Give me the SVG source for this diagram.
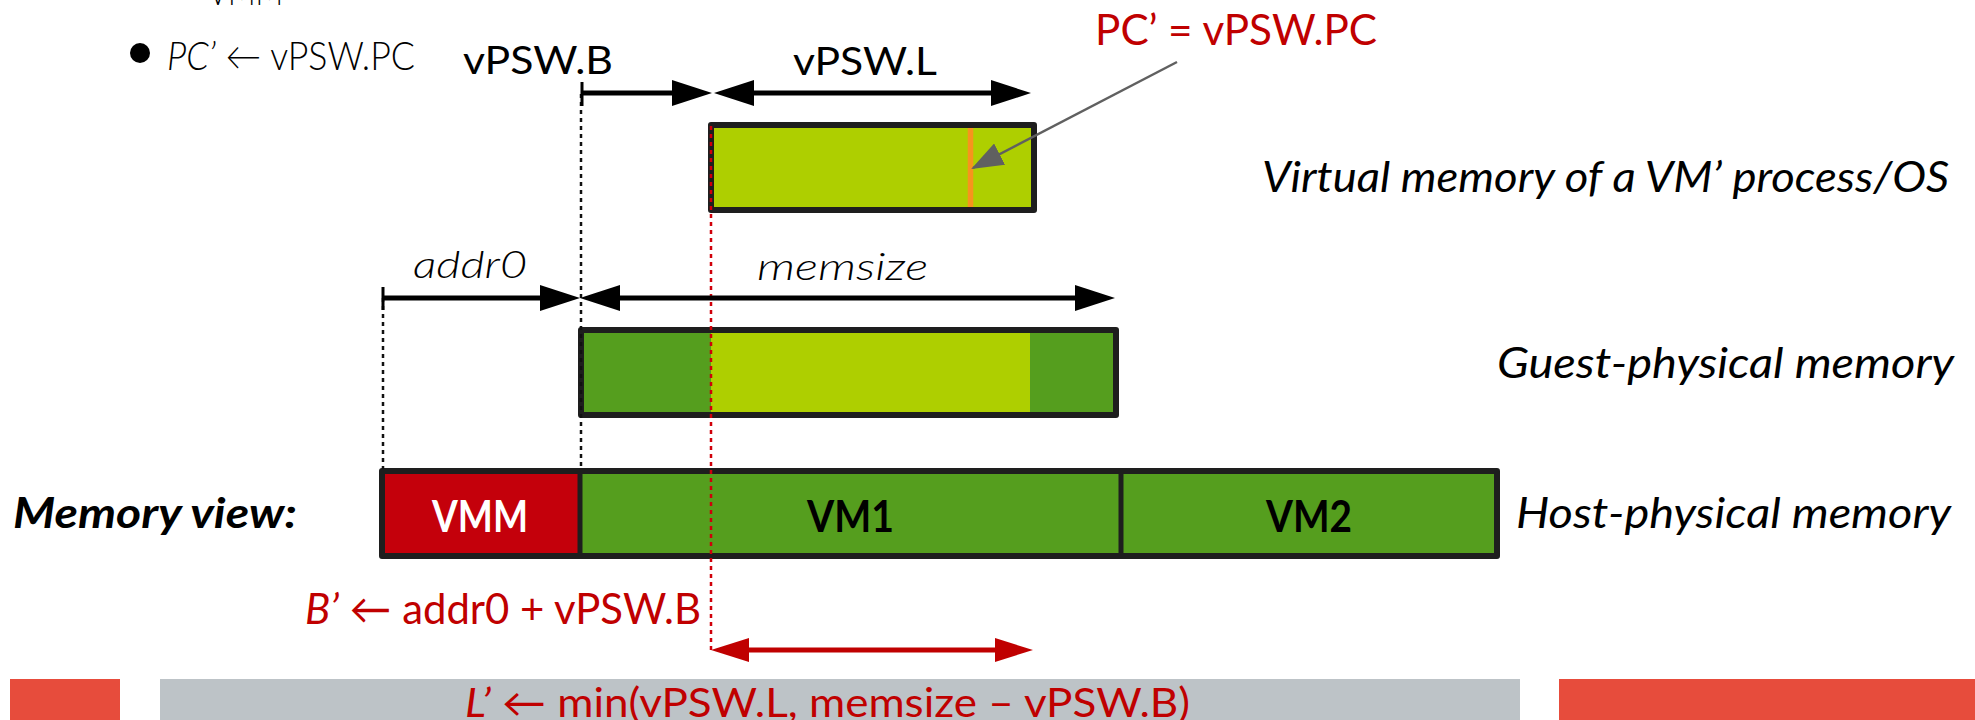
<svg xmlns="http://www.w3.org/2000/svg" width="1975" height="720" viewBox="0 0 1975 720">
  <style>
    text { font-family: "Lato", "Open Sans", "Noto Sans", "Liberation Sans", sans-serif; fill: #000; }
    .lt { font-weight: 300; }
    .it { font-style: italic; }
    .bd { font-weight: 700; }
    .red { fill: #C00000; }
    .wht { fill: #FFFFFF; }
    .box { fill: none; stroke: #1E1E1E; stroke-width: 6; stroke-linejoin: round; }
    .div { stroke: #1E1E1E; stroke-width: 5; }
    .dim { stroke: #000; stroke-width: 5; fill: none; }
    .dimr { stroke: #C00000; stroke-width: 5; fill: none; }
    .tick { stroke: #000; stroke-width: 3; }
    .dotk { stroke: #111; stroke-width: 2.5; stroke-dasharray: 4 4; fill: none; }
    .dotr { stroke: #D0000A; stroke-width: 2.5; stroke-dasharray: 4 4; fill: none; }
    .ptr { stroke: #606060; stroke-width: 2.5; fill: none; }
  </style>
  <defs>
    <marker id="headK" viewBox="0 0 40 26" refX="30" refY="13" markerWidth="40" markerHeight="26" markerUnits="userSpaceOnUse" orient="auto-start-reverse">
      <path d="M0,0 L40,13 L0,26 Z" fill="#000"/>
    </marker>
    <marker id="headR" viewBox="0 0 38 24" refX="28" refY="12" markerWidth="38" markerHeight="24" markerUnits="userSpaceOnUse" orient="auto-start-reverse">
      <path d="M0,0 L38,12 L0,24 Z" fill="#C00000"/>
    </marker>
    <marker id="headG" viewBox="0 0 32 24" refX="30" refY="12" markerWidth="32" markerHeight="24" markerUnits="userSpaceOnUse" orient="auto">
      <path d="M0,0 L32,12 L0,24 Z" fill="#606060"/>
    </marker>
  </defs>

  <!-- bottom footer bars -->
  <g id="footer">
    <rect x="10" y="679" width="110" height="41" fill="#E74C3C"/>
    <rect x="160" y="679" width="1360" height="41" fill="#BDC3C7"/>
    <rect x="1559" y="679" width="416" height="41" fill="#E74C3C"/>
  </g>

  <!-- slide text above the figure -->
  <g id="bullet">
    <text class="lt" x="208" y="5" font-size="38" textLength="75" lengthAdjust="spacingAndGlyphs" fill="#222">VMM</text>
    <circle cx="140" cy="53" r="10" fill="#000"/>
    <text class="lt" x="167" y="70" font-size="39" textLength="248" lengthAdjust="spacingAndGlyphs"><tspan class="it">PC’</tspan> ← vPSW.PC</text>
  </g>

  <!-- virtual memory of the guest process -->
  <g id="virtual">
    <rect x="711" y="125" width="323" height="85" fill="#AECF00"/>
    <line x1="970.5" y1="128" x2="970.5" y2="207" stroke="#F7941D" stroke-width="5.5"/>
    <rect class="box" x="711" y="125" width="323" height="85"/>
    <text class="it" x="1262" y="192" font-size="42" textLength="687" lengthAdjust="spacingAndGlyphs">Virtual memory of a VM’ process/OS</text>
  </g>

  <!-- guest-physical memory -->
  <g id="guest">
    <rect x="581" y="330" width="535" height="85" fill="#559E1E"/>
    <rect x="711" y="330" width="319" height="85" fill="#AECF00"/>
    <rect class="box" x="581" y="330" width="535" height="85"/>
    <text class="it" x="1497" y="378" font-size="42" textLength="457" lengthAdjust="spacingAndGlyphs">Guest-physical memory</text>
  </g>

  <!-- host-physical memory -->
  <g id="host">
    <rect id="vmm" x="382" y="471" width="198" height="85" fill="#C4000B"/>
    <rect id="vm1" x="580" y="471" width="541" height="85" fill="#559E1E"/>
    <rect id="vm2" x="1121" y="471" width="376" height="85" fill="#559E1E"/>
    <rect class="box" x="382" y="471" width="1115" height="85"/>
    <line class="div" x1="580" y1="471" x2="580" y2="556"/>
    <line class="div" x1="1121" y1="471" x2="1121" y2="556"/>
    <text class="bd wht" x="432" y="532" font-size="44" textLength="96" lengthAdjust="spacingAndGlyphs">VMM</text>
    <text class="bd" x="807" y="532" font-size="44" textLength="87" lengthAdjust="spacingAndGlyphs">VM1</text>
    <text class="bd" x="1266" y="532" font-size="44" textLength="86" lengthAdjust="spacingAndGlyphs">VM2</text>
    <text class="it" x="1516" y="528" font-size="42" textLength="435" lengthAdjust="spacingAndGlyphs">Host-physical memory</text>
    <text class="bd it" x="13" y="528" font-size="42" textLength="284" lengthAdjust="spacingAndGlyphs">Memory view:</text>
  </g>

  <!-- dimension lines, guides and pointer -->
  <g id="connectors">
    <line class="dotk" x1="383" y1="298" x2="383" y2="469"/>
    <line class="dotk" x1="581" y1="94" x2="581" y2="469"/>
    <line class="dotr" x1="711" y1="126" x2="711" y2="650"/>

    <line class="tick" x1="582" y1="82" x2="582" y2="106"/>
    <line class="dim" x1="582" y1="93" x2="702" y2="93" marker-end="url(#headK)"/>
    <line class="dim" x1="724" y1="93" x2="1021" y2="93" marker-start="url(#headK)" marker-end="url(#headK)"/>

    <line class="tick" x1="383" y1="287" x2="383" y2="310"/>
    <line class="dim" x1="383" y1="298" x2="570" y2="298" marker-end="url(#headK)"/>
    <line class="dim" x1="590" y1="298" x2="1105" y2="298" marker-start="url(#headK)" marker-end="url(#headK)"/>

    <line class="dimr" x1="721" y1="650" x2="1023" y2="650" marker-start="url(#headR)" marker-end="url(#headR)"/>

    <line class="ptr" x1="1177" y1="62" x2="973" y2="168" marker-end="url(#headG)"/>
  </g>

  <!-- dimension labels -->
  <g id="labels">
    <text x="463" y="74" font-size="38" textLength="150" lengthAdjust="spacingAndGlyphs">vPSW.B</text>
    <text x="793" y="75" font-size="38" textLength="144" lengthAdjust="spacingAndGlyphs">vPSW.L</text>
    <text class="red" x="1095" y="45" font-size="42" textLength="282" lengthAdjust="spacingAndGlyphs">PC’ = vPSW.PC</text>
    <text class="lt it" x="413" y="278" font-size="37" textLength="114" lengthAdjust="spacingAndGlyphs">addr0</text>
    <text class="lt it" x="757" y="280" font-size="37" textLength="171" lengthAdjust="spacingAndGlyphs">memsize</text>
    <text class="red" x="305" y="624" font-size="42" textLength="396" lengthAdjust="spacingAndGlyphs"><tspan class="it">B’</tspan> ← addr0 + vPSW.B</text>
    <text class="red" x="465" y="717" font-size="40" textLength="725" lengthAdjust="spacingAndGlyphs"><tspan class="it">L’</tspan> ← min(vPSW.L, memsize – vPSW.B)</text>
  </g>
</svg>
